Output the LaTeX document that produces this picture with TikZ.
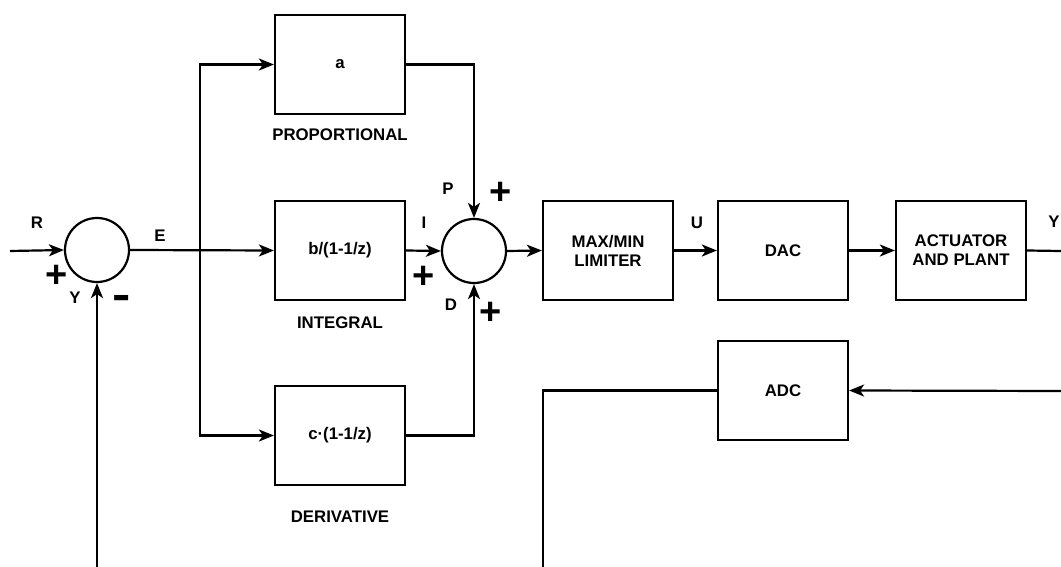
\documentclass[tikz,border=0pt]{standalone}
\usepackage{fontspec}
\setmainfont{Liberation Sans}
\usepackage{graphicx}
\usepackage{tikz}
\usetikzlibrary{arrows.meta,calc,positioning}
\definecolor{lineCol}{HTML}{000000}
\tikzset{
  blk/.style={draw=lineCol, line width=2.2pt, minimum width=130pt, minimum height=99pt,
              font=\fontsize{16.8}{19}\selectfont\bfseries, align=center, inner sep=0pt},
  sumnode/.style={draw=lineCol, circle, line width=2.2pt, minimum size=64pt, inner sep=0pt},
  sig/.style={-{Stealth[length=15pt,width=12pt,inset=4pt]}, line width=2.2pt, lineCol}, % signal with arrow
  wire/.style={line width=2.2pt, lineCol},                                          % plain wire
  lbl/.style={font=\fontsize{16.8}{19}\selectfont\bfseries, inner sep=0pt},
  sgn/.style={font=\fontsize{38}{38}\selectfont\bfseries, inner sep=0pt},
}

\begin{document}
\begin{tikzpicture}[x=1pt,y=-1pt]
  \useasboundingbox (0,0) rectangle (1061,567);
  % summing junctions
  \node[sumnode] (sumE) at (97,250) {};
  \node[sumnode] (sumPID) at (474,251) {};
  % PID branches
  \node[blk] (prop)  at (340,64.5)  {a};
  \node[blk] (integ) at (340,250.5) {b/(1-1/z)};
  \node[blk] (deriv) at (340,435.5) {c·(1-1/z)};
  \node[lbl] (propT)  at (340,135) {PROPORTIONAL};
  \node[lbl] (integT) at (340,323) {INTEGRAL};
  \node[lbl] (derivT) at (340,517) {DERIVATIVE};
  % forward path
  \node[blk] (lim) at (608,250.5) {MAX/MIN\\LIMITER};
  \node[blk] (dac) at (783,250.5) {DAC};
  \node[blk] (act) at (961,250.5) {ACTUATOR\\AND PLANT};
  % feedback
  \node[blk] (adc) at (783,390.5) {ADC};

  \coordinate (rIn)   at (10,251);
  \coordinate (split) at (200,251);
  \coordinate (yOut)  at (1061,251);
  \coordinate (fbIn)  at (1061,391);
  \coordinate (fbEnd) at (543,567);
  \coordinate (fbUp)  at (97,567);

  \draw[sig]  (rIn) -- (sumE.west);
  \draw[sig]  (sumE.east) -- (integ.west);
  \draw[sig]  (split) |- (prop.west);
  \draw[sig]  (split) |- (deriv.west);
  \draw[sig]  (prop.east) -| (sumPID.north);
  \draw[sig]  (integ.east) -- (sumPID.west);
  \draw[sig]  (deriv.east) -| (sumPID.south);
  \draw[sig]  (sumPID.east) -- (lim.west);
  \draw[sig]  (lim) -- (dac);
  \draw[sig]  (dac) -- (act);
  \draw[wire] (act.east) -- (yOut);
  \draw[sig]  (fbIn) -- (adc.east);
  \draw[wire] (adc.west) -| (fbEnd);
  \draw[sig]  (fbUp) -- (sumE.south);

  % signal names and signs
  \node[lbl] (lR) at (37,223) {R};
  \node[lbl] (lE) at (160,236) {E};
  \node[lbl] (lY) at (75,298) {Y};
  \node[sgn] (pR) at (57,276) {+};
  \node[sgn] (mY) at (122,302) {\fontsize{44}{44}\selectfont\scalebox{1.25}[1]{-}};
  \node[lbl] (lP) at (448,189) {P};
  \node[lbl] (lI) at (424,223) {I};
  \node[lbl] (lD) at (451,305) {D};
  \node[sgn] (pP) at (501,193) {+};
  \node[sgn] (pI) at (424,277) {+};
  \node[sgn] (pD) at (491,313) {+};
  \node[lbl] (lU) at (697,223) {U};
  \node[lbl] (lYo) at (1054,222) {Y};
\end{tikzpicture}
\end{document}
